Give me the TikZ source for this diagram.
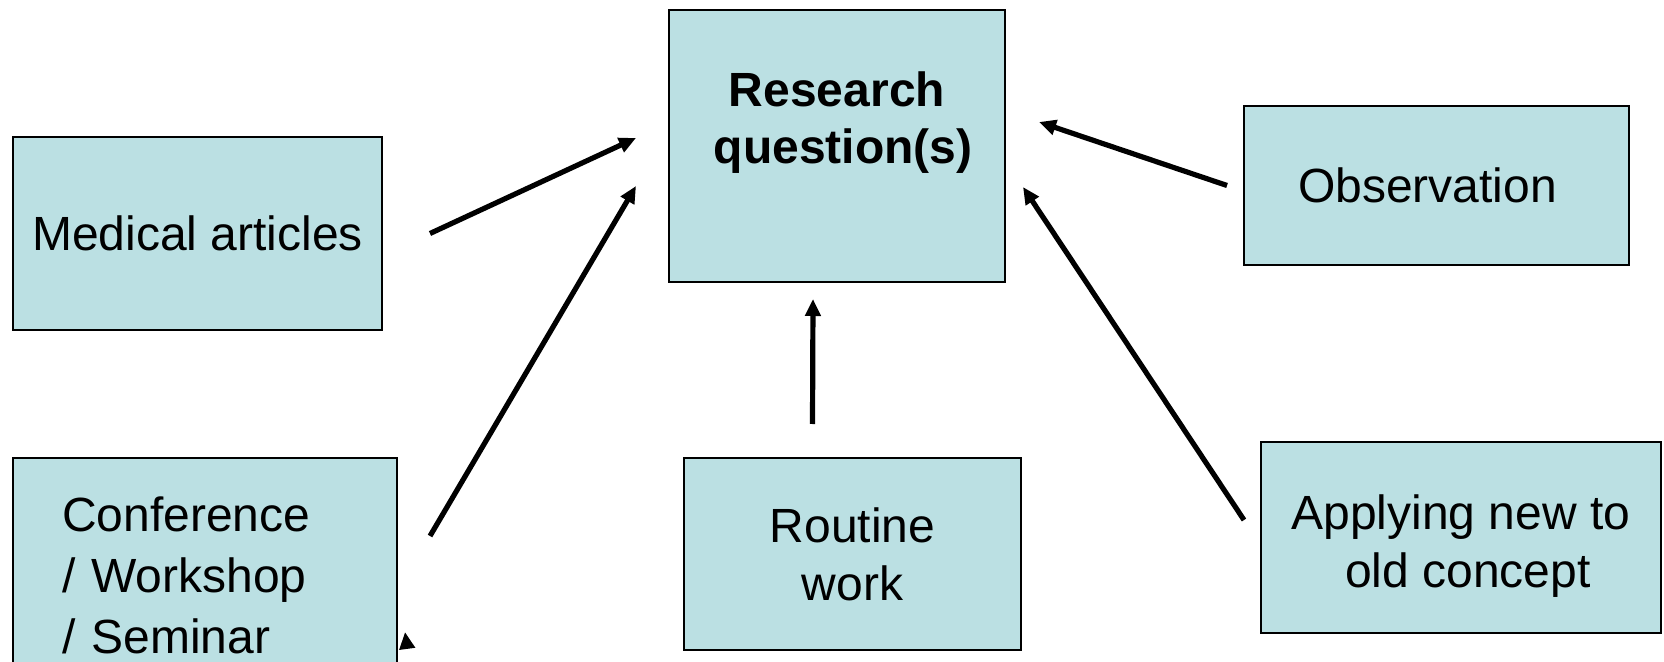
\documentclass[tikz,border=0pt]{standalone}
\usepackage{fontspec}
\setmainfont{Liberation Sans}
\usetikzlibrary{positioning,arrows.meta,calc}
\definecolor{boxblue}{HTML}{BBE0E3}

\begin{document}
\begin{tikzpicture}[x=0.5pt,y=-0.5pt,
    box/.style={draw,line width=1pt,fill=boxblue,rectangle,align=center,inner sep=0pt,font=\fontsize{24}{29}\selectfont},
    arr/.style={-{Triangle[length=8.5pt,width=7.5pt]},line width=2.6pt}]
    \useasboundingbox (0,0) rectangle (1664,662);
    \clip (0,0) rectangle (1664,662);

    \node[box,minimum width=168pt,minimum height=136pt,font=\fontsize{24}{28.5}\selectfont\bfseries] (rq) at (837,146) {Research\\\rule{6pt}{0pt}question(s)\\\mbox{}};
    \node[box,minimum width=184.5pt,minimum height=96.5pt] (med) at (197.5,233.5) {Medical articles};
    \node[box,minimum width=192.5pt,minimum height=79.5pt] (obs) at (1436.5,185.5) {Observation\rule{9pt}{0pt}};
    \node[box,align=left,text width=143pt,inner xsep=24.5pt,minimum height=117.5pt,font=\fontsize{24}{30.5}\selectfont] (conf) at (205,575.5) {Conference\\/ Workshop\\/ Seminar};
    \node[box,minimum width=168.5pt,minimum height=96pt] (rw) at (852.5,554) {Routine\\work};
    \node[box,minimum width=200pt,minimum height=95.5pt] (app) at (1461,537.5) {\rule{0pt}{25.5pt}Applying new to\\\rule{7pt}{0pt}old concept};

    \path ($(med.east)+(47,0)$) edge [arr] ($(rq.west)+(-32,-8)$);
    \path ($(conf.north east)+(32,79)$) edge [arr] ($(rq.west)+(-32,40)$);
    \path ($(obs.west)+(-16,0)$) edge [arr] ($(rq.east)+(33,-24)$);
    \path ($(app.west)+(-16,-17.5)$) edge [arr] ($(rq.east)+(17,41)$);
    \path ($(rw.north)+(-40,-33)$) edge [arr] ($(rq.south)+(-24,16)$);
    \path ($(conf.north east)+(9,190)$) edge [arr] ($(conf.north east)+(7,175)$);
\end{tikzpicture}
\end{document}
